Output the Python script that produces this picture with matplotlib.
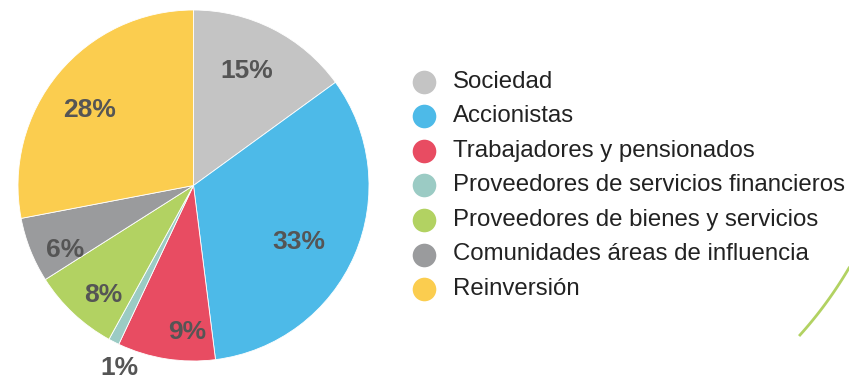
import matplotlib
matplotlib.use("Agg")
import matplotlib.pyplot as plt
from matplotlib.lines import Line2D
import numpy as np

# distribution of value added by stakeholder group
groups = ["Sociedad", "Accionistas", "Trabajadores y pensionados",
          "Proveedores de servicios financieros", "Proveedores de bienes y servicios",
          "Comunidades áreas de influencia", "Reinversión"]
shares = [15, 33, 9, 1, 8, 6, 28]
colors = ["#C4C4C4", "#4DBAE8", "#E84C62", "#9BCBC4", "#B2D262", "#9A9B9D", "#FBCD4F"]
# label placement: radial distance and angular nudge (deg) from the wedge middle
label_dist = [0.72, 0.68, 0.835, 1.12, 0.81, 0.82, 0.73]
label_nudge = [2, -4.6, 6.5, 5, 3.6, 4.9, 3.5]

plt.rcParams["font.family"] = ["Liberation Sans", "DejaVu Sans"]

fig = plt.figure(figsize=(8.49, 3.80), dpi=100)
W, H = 849, 380
ax = fig.add_axes([18 / W, 19 / H, 351 / W, 351 / H])
wedges, _ = ax.pie(shares, colors=colors, startangle=90, counterclock=False,
                   radius=1, wedgeprops=dict(linewidth=0.6, edgecolor="white"))
ax.set_xlim(-1, 1)
ax.set_ylim(-1, 1)
ax.set_aspect("equal")
ax.axis("off")

# percentage labels
for w, v, d, n in zip(wedges, shares, label_dist, label_nudge):
    ang = np.deg2rad((w.theta1 + w.theta2) / 2 + n)
    ax.text(d * np.cos(ang), d * np.sin(ang), f"{v}%", ha="center", va="center",
            fontsize=19, fontweight="bold", color="#555555", clip_on=False)

# legend
y0, step = 81.5, 34.6
texts = []
for i, (g, c) in enumerate(zip(groups, colors)):
    y = 1 - (y0 + i * step) / H
    fig.add_artist(Line2D([424 / W], [y], marker="o", markersize=17,
                          markerfacecolor=c, markeredgecolor="none", transform=fig.transFigure))
    texts.append(fig.text(453 / W, y, g, ha="left", va="center", fontsize=18, color="#222222"))

# shrink the legend text so the longest entry ends at x=845
r = fig.canvas.get_renderer()
widest = max(t.get_window_extent(r).width for t in texts)
for t in texts:
    t.set_fontsize(18 * 392 / widest)

# thin green arc at the bottom right
s = np.linspace(0, 1, 20)
xs = 800 + 49 * s + 6 * s * (1 - s)
ys = 335 - 67 * s + 6 * s * (1 - s)
fig.add_artist(Line2D(xs / W, 1 - ys / H, color="#B2D262", linewidth=2,
                      transform=fig.transFigure))

fig.savefig("out.png", dpi=100)
